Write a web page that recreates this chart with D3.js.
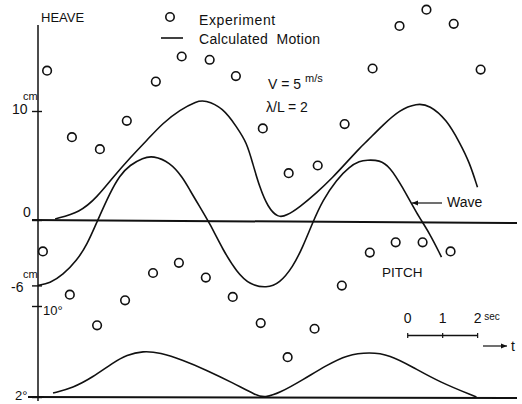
<!DOCTYPE html>
<html>
<head>
<meta charset="utf-8">
<script src="https://cdn.jsdelivr.net/npm/d3@7"></script>
<style>
  body { margin: 0; background: #fff; }
  text { font-family: "Liberation Sans", Arial, sans-serif; fill: #111; }
</style>
</head>
<body>
<div id="chart"></div>
<script>
const SVG_WIDTH = 522;
const SVG_HEIGHT = 404;

// time in sec, heave in cm, pitch in deg
const heaveExperiment = [
    [0.26, 13.7], [0.97, 7.6], [1.77, 6.5], [2.54, 9.1], [3.37, 12.7], [4.11, 15.0],
    [4.91, 14.7], [5.66, 13.2], [6.43, 8.4], [7.17, 4.3], [8.00, 5.0], [8.77, 8.8],
    [9.57, 13.9], [10.34, 17.8], [11.11, 19.3], [11.89, 18.0], [12.66, 13.8]
];
const pitchExperiment = [
    [0.14, 14.8], [0.91, 11.0], [1.69, 8.3], [2.49, 10.5], [3.29, 12.9], [4.03, 13.8],
    [4.80, 12.5], [5.57, 10.8], [6.37, 8.5], [7.14, 5.5], [7.91, 8.0], [8.69, 11.8],
    [9.49, 14.7], [10.23, 15.6], [11.00, 15.6], [11.80, 14.8]
];
const heaveCalculated = [
    [0.49, 0.1], [1.2, 0.7], [1.69, 2.1], [2.14, 3.9], [2.63, 5.7], [3.11, 7.3],
    [3.57, 8.9], [4.06, 10.1], [4.54, 10.9], [4.77, 11.0], [5.29, 10.3], [5.69, 8.5],
    [5.97, 7.1], [6.14, 5.2], [6.34, 3.0], [6.57, 1.2], [6.86, 0.2], [7.11, 0.4],
    [7.49, 1.2], [7.97, 2.5], [8.43, 3.9], [8.83, 5.3], [9.2, 6.6], [9.4, 7.2],
    [9.86, 8.7], [10.34, 10.1], [10.83, 10.7], [11.2, 10.55], [11.69, 9.2],
    [12.06, 7.1], [12.34, 5.3], [12.57, 3.0]
];
const waveCalculated = [
    [0, -6.0], [0.34, -5.8], [0.71, -5.05], [1.11, -3.7], [1.40, -2.3], [1.71, 0],
    [2.06, 2.5], [2.34, 4.1], [2.63, 5.05], [3.0, 5.7], [3.29, 5.9], [3.77, 5.3],
    [4.14, 3.9], [4.34, 2.75], [4.63, 1.2], [4.91, -0.3], [5.29, -2.75], [5.69, -4.8],
    [6.06, -5.95], [6.54, -6.25], [6.91, -5.8], [7.29, -4.3], [7.57, -2.5], [7.86, -0.2],
    [8.14, 1.8], [8.54, 3.7], [8.91, 4.9], [9.2, 5.4], [9.4, 5.5], [9.77, 5.5],
    [10.06, 4.9], [10.43, 3.0], [10.83, 0.6], [11.2, -1.2], [11.54, -3.4]
];
const pitchCalculated = [
    [0.43, 2.35], [1.0, 2.8], [1.57, 3.75], [2.14, 5.0], [2.54, 5.7], [3.0, 6.05],
    [3.49, 5.9], [4.14, 5.25], [4.83, 4.35], [5.57, 3.25], [6.26, 2.1], [6.49, 1.95],
    [6.91, 2.35], [7.57, 3.5], [8.26, 4.8], [8.83, 5.7], [9.49, 5.95], [10.06, 5.7],
    [10.71, 4.65], [11.49, 3.3], [12.54, 2.0]
];
const heaveTicks = [10, 0, -6];
const pitchTicks = [10, 2];
const scaleBarTicks = [0, 1, 2];

const getScales = () => {
    const x = d3.scaleLinear().domain([0, 13.7]).range([38, 517]);
    const yHeave = d3.scaleLinear().domain([0, 10]).range([220, 111]);
    const yPitch = d3.scaleLinear().domain([2, 10]).range([397, 306]);
    return { x, yHeave, yPitch };
};

const appendAxes = (svg, s) => {
    // vertical axis
    svg.append("line")
        .attr("x1", s.x(0)).attr("x2", s.x(0))
        .attr("y1", 25).attr("y2", 401)
        .attr("stroke", "#111").attr("stroke-width", 1.5);

    // zero line and pitch base line
    svg.append("line")
        .attr("x1", 32).attr("x2", s.x(13.7))
        .attr("y1", s.yHeave(0)).attr("y2", s.yHeave(0) + 3)
        .attr("stroke", "#111").attr("stroke-width", 2);
    svg.append("line")
        .attr("x1", 28).attr("x2", s.x(13.7))
        .attr("y1", s.yPitch(2)).attr("y2", s.yPitch(2) + 1)
        .attr("stroke", "#111").attr("stroke-width", 2);

    const hAxis = svg.append("g")
        .attr("transform", `translate(${s.x(0) + 4},0)`)
        .call(d3.axisLeft(s.yHeave).tickValues(heaveTicks).tickSize(10).tickFormat(""));
    hAxis.select(".domain").remove();
    hAxis.selectAll("line").attr("stroke", "#111").attr("stroke-width", 1.4);

    const pAxis = svg.append("g")
        .attr("transform", `translate(${s.x(0) + 4},0)`)
        .call(d3.axisLeft(s.yPitch).tickValues(pitchTicks).tickSize(10).tickFormat(""));
    pAxis.select(".domain").remove();
    pAxis.selectAll("line").attr("stroke", "#111").attr("stroke-width", 1.4);

    const lbl = (x, y, t, size) => svg.append("text")
        .attr("x", x).attr("y", y).attr("font-size", size).text(t);

    lbl(12, s.yHeave(10) + 3, "10", 14);
    lbl(23, s.yHeave(10) - 11, "cm", 11);
    lbl(23, s.yHeave(0) - 3, "0", 14);
    lbl(23, s.yHeave(-6) - 7, "cm", 11);
    lbl(11, s.yHeave(-6) + 7, "-6", 14);
    lbl(43, s.yPitch(10) + 9, "10°", 13);
    lbl(15, s.yPitch(2) + 3, "2°", 13);
    lbl(41, 22, "HEAVE", 13);
};

const appendAnnotations = (svg, s) => {
    // legend
    svg.append("circle").attr("cx", 170).attr("cy", 17).attr("r", 4.2)
        .attr("fill", "none").attr("stroke", "#111").attr("stroke-width", 1.6);
    svg.append("line").attr("x1", 161).attr("x2", 183).attr("y1", 38).attr("y2", 38)
        .attr("stroke", "#111").attr("stroke-width", 1.6);
    svg.append("text").attr("x", 199).attr("y", 25).attr("font-size", 14)
        .attr("letter-spacing", 0.6).text("Experiment");
    svg.append("text").attr("x", 199).attr("y", 44).attr("font-size", 14)
        .attr("letter-spacing", 0.3).attr("xml:space", "preserve").text("Calculated  Motion");

    svg.append("text").attr("x", 268).attr("y", 89).attr("font-size", 14).text("V = 5");
    svg.append("text").attr("x", 305).attr("y", 82).attr("font-size", 11).text("m/s");
    svg.append("text").attr("x", 266).attr("y", 112).attr("font-size", 14).text("λ/L = 2");

    svg.append("text").attr("x", 382).attr("y", 277).attr("font-size", 13.5).text("PITCH");
    svg.append("text").attr("x", 447).attr("y", 207).attr("font-size", 14).text("Wave");

    const arrow = (x1, x2, y) => {
        svg.append("line").attr("x1", x1).attr("x2", x2).attr("y1", y).attr("y2", y)
            .attr("stroke", "#111").attr("stroke-width", 1.2);
        const d = x2 > x1 ? -1 : 1;
        svg.append("path")
            .attr("d", `M${x2},${y}L${x2 + d * 6},${y - 2.5}L${x2 + d * 6},${y + 2.5}Z`)
            .attr("fill", "#111");
    };
    arrow(442, 412, 203);
    arrow(483, 507, 346);
    svg.append("text").attr("x", 511).attr("y", 351).attr("font-size", 14).text("t");

    // time scale bar
    const sb = d3.scaleLinear().domain([0, 2]).range([s.x(10.56), s.x(12.56)]);
    const bar = svg.append("g")
        .attr("transform", "translate(0,335)")
        .call(d3.axisTop(sb).tickValues(scaleBarTicks).tickSizeInner(3).tickSizeOuter(0).tickPadding(9)
            .tickFormat(d3.format("d")));
    bar.select(".domain").attr("stroke", "#111").attr("stroke-width", 1.3);
    bar.selectAll(".tick line").attr("stroke", "#111").attr("stroke-width", 1.2).attr("y2", 3).attr("y1", -2);
    bar.selectAll("text").attr("font-size", 14).attr("fill", "#111")
        .attr("font-family", "Liberation Sans, Arial, sans-serif");
    svg.append("text").attr("x", sb(2) + 7).attr("y", 320).attr("font-size", 10).text("sec");
};

const appendData = (svg, s) => {
    const curve = (data, y) => svg.append("path")
        .datum(data)
        .attr("fill", "none").attr("stroke", "#111").attr("stroke-width", 1.6)
        .attr("d", d3.line().x(d => s.x(d[0])).y(d => y(d[1])).curve(d3.curveBasis));

    curve(heaveCalculated, s.yHeave);
    curve(waveCalculated, s.yHeave);
    curve(pitchCalculated, s.yPitch);

    const dots = (data, y) => svg.append("g").selectAll("circle")
        .data(data).enter().append("circle")
        .attr("cx", d => s.x(d[0])).attr("cy", d => y(d[1])).attr("r", 4.3)
        .attr("fill", "#fff").attr("stroke", "#111").attr("stroke-width", 1.6);

    dots(heaveExperiment, s.yHeave);
    dots(pitchExperiment, s.yPitch);
};

const drawChart = (containerId) => {
    const container = d3.select("#" + containerId);
    container.html("");
    const svg = container.append("svg")
        .attr("width", SVG_WIDTH)
        .attr("height", SVG_HEIGHT);
    const scales = getScales();
    appendAxes(svg, scales);
    appendData(svg, scales);
    appendAnnotations(svg, scales);
};

drawChart("chart");
</script>
</body>
</html>
